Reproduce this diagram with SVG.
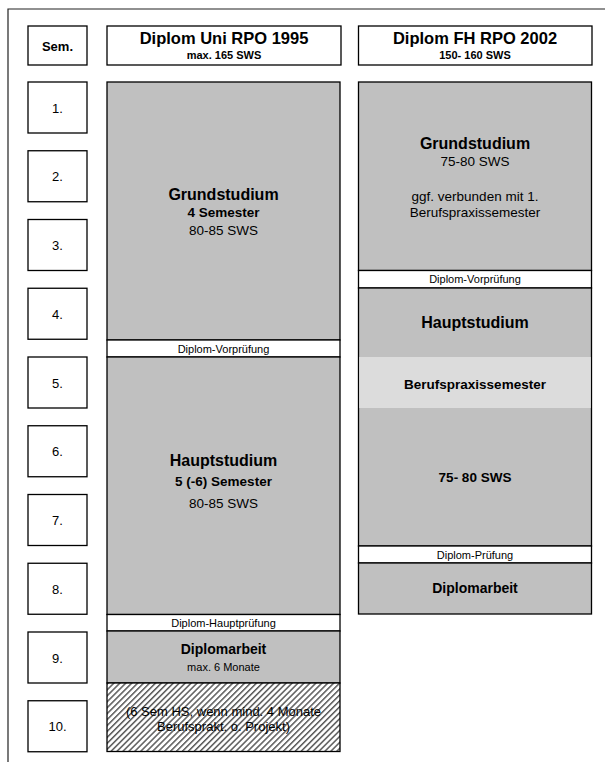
<svg xmlns="http://www.w3.org/2000/svg" width="605" height="762" viewBox="0 0 605 762">
<defs>
<pattern id="hatch" patternUnits="userSpaceOnUse" width="4.2" height="4.2" patternTransform="rotate(45)">
<rect width="4.2" height="4.2" fill="#fff"/>
<rect x="0" y="0" width="1.5" height="4.2" fill="#5a5a5a"/>
</pattern>
</defs>
<style>
text{font-family:"Liberation Sans",Arial,sans-serif;text-anchor:middle;fill:#000}
.b{font-weight:bold}
.box{fill:#fff;stroke:#000;stroke-width:1.3}
.g{fill:#c0c0c0;stroke:#000;stroke-width:1.3}
.w{fill:#fff;stroke:#000;stroke-width:1.3}
.t16{font-size:16px;font-weight:bold}
.t13{font-size:13.5px}
.t11{font-size:11px}
.n{font-size:13px}
</style>
<rect width="605" height="762" fill="#fff"/>
<path d="M8,762 V9 H605" fill="none" stroke="#222" stroke-width="1.2"/>

<g id="header-sem"><rect class="box" x="28" y="26" width="59" height="39"/><text x="57.5" y="50.5" class="b" font-size="13">Sem.</text></g>
<g id="header-uni"><rect class="box" x="107" y="26" width="234" height="39"/><text x="224" y="44" class="b" font-size="16.5">Diplom Uni RPO 1995</text><text x="224" y="59" class="b" font-size="11">max. 165 SWS</text></g>
<g id="header-fh"><rect class="box" x="358.5" y="26" width="233.5" height="39"/><text x="475" y="44" class="b" font-size="16.5">Diplom FH RPO 2002</text><text x="475" y="59" class="b" font-size="11">150- 160 SWS</text></g>

<g id="sem1"><rect class="box" x="28" y="82" width="59" height="51"/><text class="n" x="57.5" y="112.5">1.</text></g>
<g id="sem2"><rect class="box" x="28" y="150.75" width="59" height="51"/><text class="n" x="57.5" y="181.2">2.</text></g>
<g id="sem3"><rect class="box" x="28" y="219.5" width="59" height="51"/><text class="n" x="57.5" y="250">3.</text></g>
<g id="sem4"><rect class="box" x="28" y="288.25" width="59" height="51"/><text class="n" x="57.5" y="318.7">4.</text></g>
<g id="sem5"><rect class="box" x="28" y="357" width="59" height="51"/><text class="n" x="57.5" y="387.5">5.</text></g>
<g id="sem6"><rect class="box" x="28" y="425.75" width="59" height="51"/><text class="n" x="57.5" y="456.2">6.</text></g>
<g id="sem7"><rect class="box" x="28" y="494.5" width="59" height="51"/><text class="n" x="57.5" y="525">7.</text></g>
<g id="sem8"><rect class="box" x="28" y="563.25" width="59" height="51"/><text class="n" x="57.5" y="593.7">8.</text></g>
<g id="sem9"><rect class="box" x="28" y="632" width="59" height="51"/><text class="n" x="57.5" y="662.5">9.</text></g>
<g id="sem10"><rect class="box" x="28" y="700.75" width="59" height="51"/><text class="n" x="57.5" y="731.2">10.</text></g>

<g id="uni-grundstudium"><rect class="g" x="107" y="82" width="233" height="258"/>
<text class="t16" x="223.5" y="200">Grundstudium</text>
<text class="t13 b" x="223.5" y="217">4 Semester</text>
<text class="t13" x="223.5" y="235">80-85 SWS</text></g>
<g id="uni-vorpruefung"><rect class="w" x="107" y="340" width="233" height="17"/><text class="t11" x="223.5" y="353">Diplom-Vorprüfung</text></g>
<g id="uni-hauptstudium"><rect class="g" x="107" y="357" width="233" height="257.5"/>
<text class="t16" x="223.5" y="466">Hauptstudium</text>
<text class="t13 b" x="223.5" y="486">5 (-6) Semester</text>
<text class="t13" x="223.5" y="508">80-85 SWS</text></g>
<g id="uni-hauptpruefung"><rect class="w" x="107" y="614.5" width="233" height="16.5"/><text class="t11" x="223.5" y="626.5">Diplom-Hauptprüfung</text></g>
<g id="uni-diplomarbeit"><rect class="g" x="107" y="631" width="233" height="52"/>
<text class="b" font-size="14" x="223.5" y="654">Diplomarbeit</text>
<text class="t11" x="223.5" y="671">max. 6 Monate</text></g>
<g id="uni-optional"><rect x="107" y="683" width="233" height="68.5" fill="url(#hatch)" stroke="#000" stroke-width="1.3"/>
<text font-size="13" x="223.5" y="716">(6 Sem HS, wenn mind. 4 Monate</text>
<text font-size="13" x="223.5" y="731">Berufsprakt. o. Projekt)</text></g>

<g id="fh-grundstudium"><rect class="g" x="358.5" y="82" width="233" height="188.5"/>
<text class="t16" x="475" y="149">Grundstudium</text>
<text class="t13" x="475" y="166">75-80 SWS</text>
<text class="t13" x="475" y="201">ggf. verbunden mit 1.</text>
<text class="t13" x="475" y="217">Berufspraxissemester</text></g>
<g id="fh-vorpruefung"><rect class="w" x="358.5" y="270.5" width="233" height="17.5"/><text class="t11" x="475" y="283">Diplom-Vorprüfung</text></g>
<g id="fh-hauptstudium"><rect class="g" x="358.5" y="288" width="233" height="258"/>
<rect x="359.2" y="357" width="231.6" height="51" fill="#dcdcdc"/>
<text class="t16" x="475" y="328">Hauptstudium</text>
<text class="b" font-size="13.5" x="475" y="389">Berufspraxissemester</text>
<text class="b" font-size="13.5" x="475" y="481.5">75- 80 SWS</text></g>
<g id="fh-pruefung"><rect class="w" x="358.5" y="546" width="233" height="17"/><text class="t11" x="475" y="558.5">Diplom-Prüfung</text></g>
<g id="fh-diplomarbeit"><rect class="g" x="358.5" y="563" width="233" height="51"/>
<text class="b" font-size="14" x="475" y="593">Diplomarbeit</text></g>
<g id="connectors"></g>
</svg>
